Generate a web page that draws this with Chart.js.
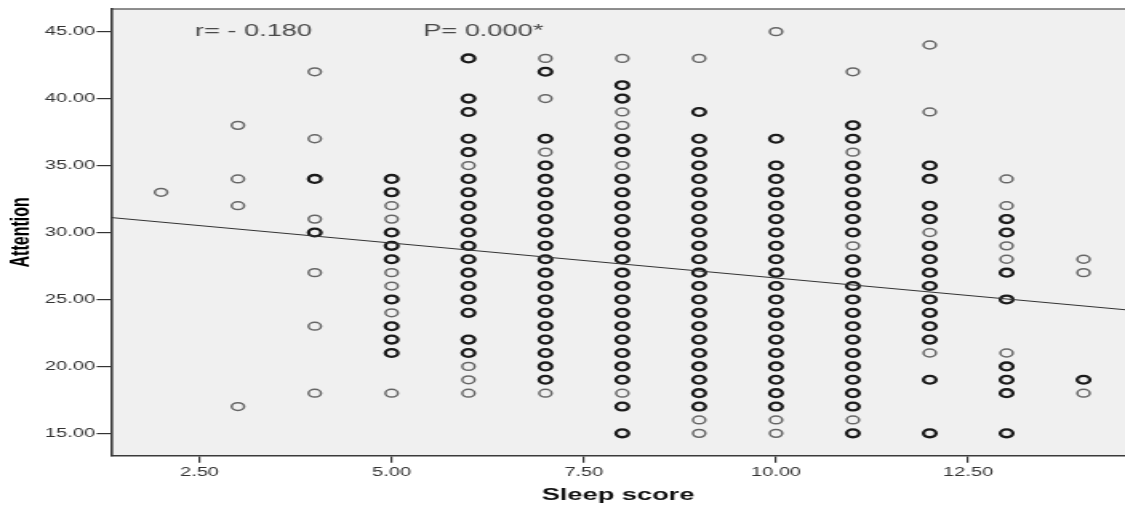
<!DOCTYPE html>
<html>
<head>
<meta charset="utf-8">
<title>Sleep score vs Attention</title>
<script src="https://cdn.jsdelivr.net/npm/chart.js@4.4.1/dist/chart.umd.min.js"></script>
<style>
  html, body { margin: 0; padding: 0; background: #fff; overflow: hidden; }
  /* the source picture is stretched sideways, so the whole chart is too */
  #wrap { width: 703px; height: 506px; transform: scaleX(1.6003); transform-origin: 0 0; }
</style>
</head>
<body>
<div id="wrap"><canvas id="scatter"></canvas></div>
<script>
'use strict';

// ***** DATA *****
const sleepScores = [2, 3, 4, 5, 6, 7, 8, 9, 10, 11, 12, 13, 14];

// attention values at each sleep score (a value listed twice = several cases on one spot)
const att2 = [33];
const att3 = [38, 34, 32, 17];
const att4 = [42, 37, 34, 34, 31, 30, 30, 27, 23, 18];
const att5 = [34, 34, 33, 33, 32, 31, 30, 30, 29, 29, 28, 28, 27, 26, 25, 25, 24, 23, 23, 22, 22, 21, 21, 18];
const att6 = [43, 43, 40, 40, 39, 39, 37, 37, 36, 36, 35, 34, 34, 33, 33, 32, 32, 31, 31, 30, 30, 29, 29,
  28, 28, 27, 27, 26, 26, 25, 25, 24, 24, 22, 22, 21, 21, 20, 19, 18];
const att7 = [43, 42, 42, 40, 37, 37, 36, 35, 35, 34, 34, 33, 33, 32, 32, 31, 31, 30, 30, 29, 29, 28, 28,
  27, 27, 26, 26, 25, 25, 24, 24, 23, 23, 22, 22, 21, 21, 20, 20, 19, 19, 18];
const att8 = [43, 41, 41, 40, 40, 39, 38, 37, 37, 36, 36, 35, 34, 34, 33, 33, 32, 32, 31, 31, 30, 30, 29, 29,
  28, 28, 27, 27, 26, 26, 25, 25, 24, 24, 23, 23, 22, 22, 21, 21, 20, 20, 19, 19, 18, 17, 17, 15, 15];
const att9 = [43, 39, 39, 37, 37, 36, 36, 35, 35, 34, 34, 33, 33, 32, 32, 31, 31, 30, 30, 29, 29, 28, 28,
  27, 27, 26, 26, 25, 25, 24, 24, 23, 23, 22, 22, 21, 21, 20, 20, 19, 19, 18, 18, 17, 17, 16, 15];
const att10 = [45, 37, 37, 35, 35, 34, 34, 33, 33, 32, 32, 31, 31, 30, 30, 29, 29, 28, 28, 27, 27, 26, 26,
  25, 25, 24, 24, 23, 23, 22, 22, 21, 21, 20, 20, 19, 19, 18, 18, 17, 17, 16, 15];
const att11 = [42, 38, 38, 37, 37, 36, 35, 35, 34, 34, 33, 33, 32, 32, 31, 31, 30, 30, 29, 28, 28, 27, 27,
  26, 26, 25, 25, 24, 24, 23, 23, 22, 22, 21, 21, 20, 20, 19, 19, 18, 18, 17, 17, 16, 15, 15];
const att12 = [44, 39, 35, 35, 34, 34, 32, 32, 31, 31, 30, 29, 29, 28, 28, 27, 27, 26, 26, 25, 25, 24, 24,
  23, 23, 22, 22, 21, 19, 19, 15, 15];
const att13 = [34, 32, 31, 31, 30, 30, 29, 28, 27, 27, 25, 25, 21, 20, 20, 19, 19, 18, 18, 15, 15];
const att14 = [28, 27, 19, 19, 18];

const attentionByScore = [att2, att3, att4, att5, att6, att7, att8, att9, att10, att11, att12, att13, att14];

// axes
const xTicks = [2.5, 5, 7.5, 10, 12.5];
const yTicks = [15, 20, 25, 30, 35, 40, 45];
const xRange = [1.35, 14.54];
const yRange = [13.33, 46.69];

// fit line and stats
const fitIntercept = 31.82;
const fitSlope = -0.522;
const rText = 'r= - 0.180';
const pText = 'P= 0.000*';

// **** BUILD POINTS ****
const points = [];
sleepScores.forEach(function (score, i) {
  const counts = {};
  attentionByScore[i].forEach(function (v) {
    counts[v] = (counts[v] || 0) + 1;
  });
  Object.keys(counts).forEach(function (v) {
    points.push({ x: score, y: Number(v), n: counts[v] });
  });
});

const fitLine = xRange.map(function (x) {
  return { x: x, y: fitIntercept + fitSlope * x };
});

// **** PLUGIN: grey plot area, top rule, r / P labels ****
const plotFrame = {
  id: 'plotFrame',
  beforeDraw(chart) {
    const { ctx, chartArea: a } = chart;
    ctx.save();
    ctx.fillStyle = '#f0f0f0';
    ctx.fillRect(a.left, a.top, a.right - a.left, a.bottom - a.top);
    ctx.strokeStyle = '#6a6a6a';
    ctx.lineWidth = 1.3;
    ctx.beginPath();
    ctx.moveTo(a.left, a.top);
    ctx.lineTo(a.right, a.top);
    ctx.stroke();
    ctx.restore();
  },
  afterDatasetsDraw(chart) {
    const { ctx, scales } = chart;
    ctx.save();
    ctx.font = '17px "Liberation Sans", Arial, sans-serif';
    ctx.fillStyle = '#4a4a4a';
    ctx.textBaseline = 'middle';
    ctx.textAlign = 'left';
    const ty = scales.y.getPixelForValue(45.05);
    ctx.fillText(rText, scales.x.getPixelForValue(2.44), ty);
    ctx.fillText(pText, scales.x.getPixelForValue(5.41), ty);
    ctx.restore();
  }
};

// **** CHART ****
const ctx = document.getElementById('scatter').getContext('2d');

new Chart(ctx, {
  type: 'scatter',
  data: {
    datasets: [
      {
        type: 'line',
        data: fitLine,
        borderColor: '#333',
        borderWidth: 1,
        pointRadius: 0,
        fill: false
      },
      {
        data: points,
        pointRadius: 3.9,
        pointBackgroundColor: 'rgba(0,0,0,0)',
        pointBorderColor: function (c) { return c.raw && c.raw.n > 1 ? '#1a1a1a' : '#666'; },
        pointBorderWidth: function (c) { return c.raw && c.raw.n > 1 ? 2.3 : 1.5; }
      }
    ]
  },
  options: {
    responsive: true,
    maintainAspectRatio: false,
    devicePixelRatio: 1,
    animation: false,
    layout: { autoPadding: false, padding: { top: 9, right: 0, bottom: 0, left: 0 } },
    plugins: {
      legend: { display: false },
      tooltip: { enabled: false }
    },
    scales: {
      x: {
        type: 'linear',
        min: xRange[0],
        max: xRange[1],
        afterBuildTicks: function (s) { s.ticks = xTicks.map(function (v) { return { value: v }; }); },
        afterFit: function (s) { s.height = 50.3; s.paddingLeft = 0; s.paddingRight = 0; },
        ticks: {
          callback: function (v) { return Number(v).toFixed(2); },
          color: '#333',
          font: { family: '"Liberation Sans", Arial, sans-serif', size: 12.5 },
          padding: 2,
          maxRotation: 0,
          autoSkip: false
        },
        grid: { drawOnChartArea: false, drawTicks: true, tickLength: 7, color: '#333', lineWidth: 1.2 },
        border: { display: true, color: '#3a3a3a', width: 1.6 },
        title: {
          display: true,
          text: 'Sleep score',
          color: '#111',
          font: { family: '"Liberation Sans", Arial, sans-serif', size: 17, weight: 'bold' },
          padding: { top: 0, bottom: 0 }
        }
      },
      y: {
        type: 'linear',
        min: yRange[0],
        max: yRange[1],
        afterBuildTicks: function (s) { s.ticks = yTicks.map(function (v) { return { value: v }; }); },
        afterFit: function (s) { s.width = 69.4; s.paddingTop = 0; s.paddingBottom = 0; },
        ticks: {
          callback: function (v) { return Number(v).toFixed(2); },
          color: '#333',
          font: { family: '"Liberation Sans", Arial, sans-serif', size: 12.5 },
          padding: 1,
          autoSkip: false
        },
        grid: { drawOnChartArea: false, drawTicks: true, tickLength: 9, color: '#333', lineWidth: 1.2 },
        border: { display: true, color: '#3a3a3a', width: 1.6 },
        title: {
          display: true,
          text: 'Attention',
          color: '#000',
          font: { family: '"Liberation Sans", Arial, sans-serif', size: 16, weight: 'bold' },
          padding: { top: 4.2, bottom: 0 }
        }
      }
    }
  },
  plugins: [plotFrame]
});
</script>
</body>
</html>
